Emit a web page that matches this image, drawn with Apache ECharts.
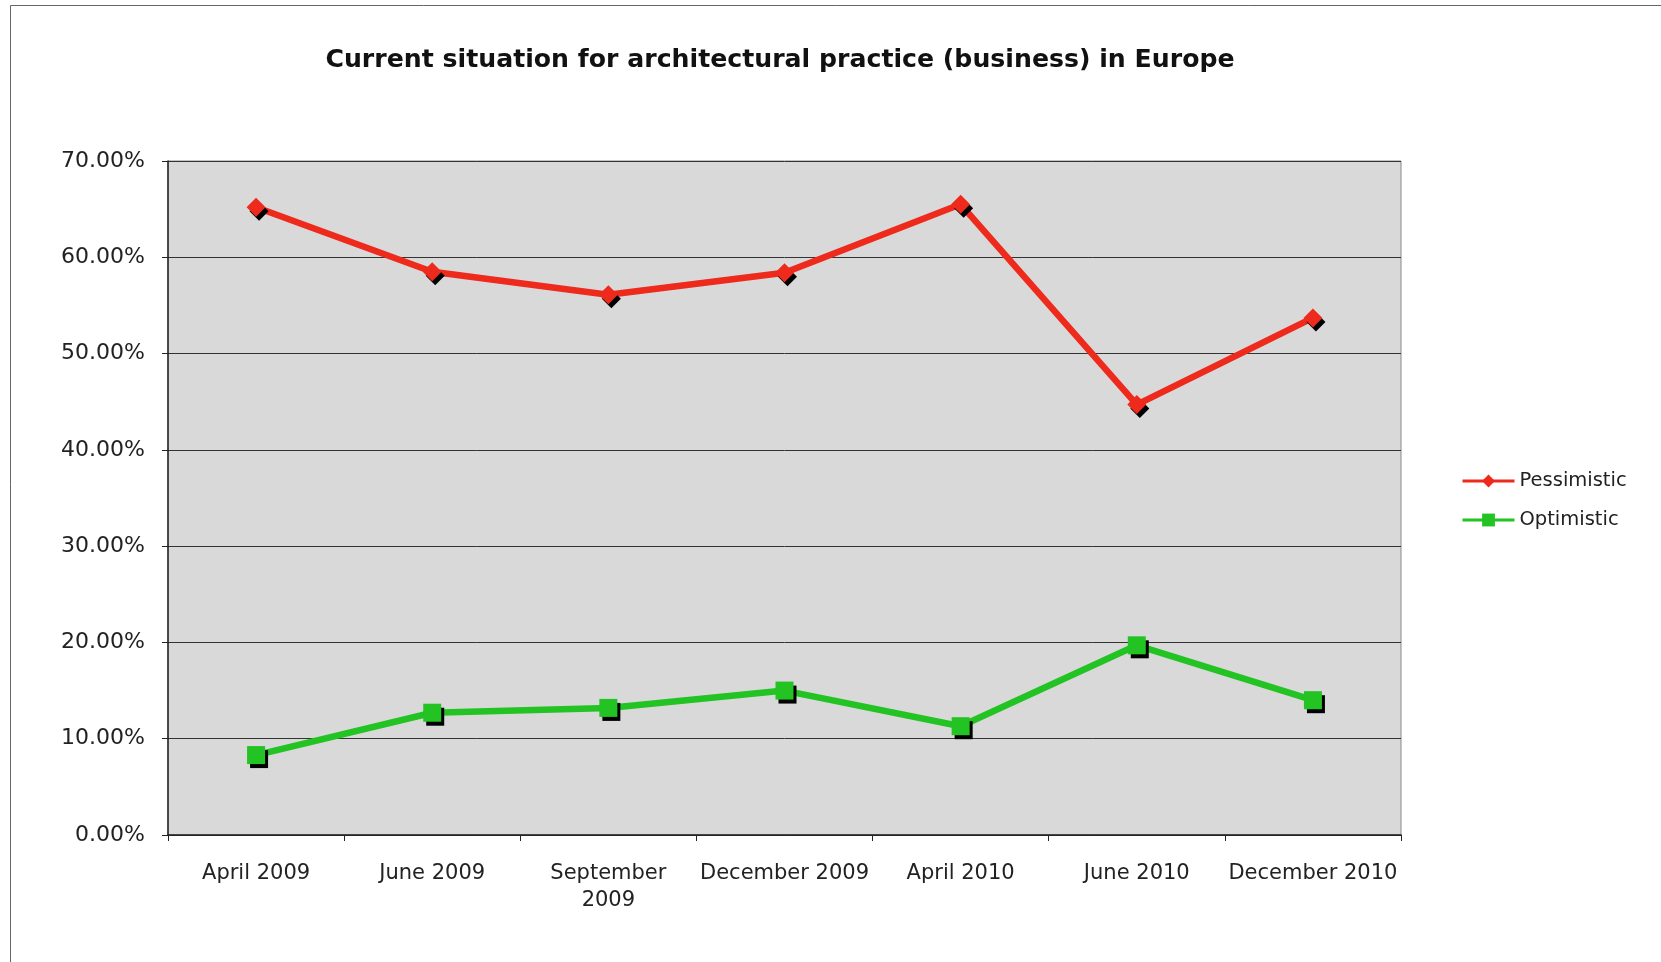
<!DOCTYPE html>
<html>
<head>
    <meta charset="utf-8">
    <title>Architectural practice in Europe</title>
    <script src="https://cdn.jsdelivr.net/npm/echarts@6/dist/echarts.min.js"></script>
    <style>
        html, body { margin: 0; padding: 0; background: #ffffff; }
        #main { width: 1661px; height: 962px; }
    </style>
</head>
<body>
    <div id="main"></div>
    <script>
        // survey dates (x axis)
        var categories = ['April 2009', 'June 2009', 'September 2009', 'December 2009', 'April 2010', 'June 2010', 'December 2010'];
        // share of answers, in %
        var pessimistic = [65.2, 58.5, 56.1, 58.4, 65.5, 44.7, 53.7];
        var optimistic = [8.3, 12.7, 13.2, 15.0, 11.3, 19.7, 14.0];
        var yTicks = [0, 10, 20, 30, 40, 50, 60, 70];

        var myChart = echarts.init(document.getElementById('main'));
        var font = 'DejaVu Sans';

        myChart.setOption({
            animation: false,
            backgroundColor: '#ffffff',
            //外框
            graphic: [{
                type: 'rect',
                shape: { x: 10.5, y: 5.5, width: 1700, height: 1000 },
                style: { fill: 'none', stroke: '#666666', lineWidth: 1 }
            }],
            title: {
                text: 'Current situation for architectural practice (business) in Europe',
                left: 775,
                textAlign: 'center',
                top: 43,
                textStyle: { fontFamily: font, fontSize: 25.2, fontWeight: 'bold', color: '#111111' }
            },
            legend: {
                orient: 'vertical',
                left: 1456,
                top: 466,
                itemGap: 19,
                itemWidth: 52,
                itemHeight: 16,
                lineStyle: { width: 3 },
                textStyle: { fontFamily: font, fontSize: 19.5, color: '#222222' },
                data: ['Pessimistic', 'Optimistic']
            },
            grid: {
                left: 168,
                right: 1661 - 1401,
                top: 161,
                bottom: 962 - 835,
                show: true,
                backgroundColor: '#d9d9d9',
                borderColor: '#8a8a8a',
                borderWidth: 1
            },
            xAxis: {
                type: 'category',
                data: categories,
                boundaryGap: true,
                axisLine: { lineStyle: { color: '#222222', width: 1.5 } },
                axisTick: { show: true, length: 6, alignWithLabel: false, lineStyle: { color: '#222222' } },
                axisLabel: {
                    interval: 0,
                    margin: 25,
                    fontFamily: font,
                    fontSize: 21,
                    color: '#222222',
                    lineHeight: 27,
                    formatter: function (v) { return v.replace('September ', 'September\n'); }
                }
            },
            yAxis: {
                type: 'value',
                min: yTicks[0],
                max: yTicks[yTicks.length - 1],
                interval: 10,
                axisLine: { show: true, lineStyle: { color: '#222222', width: 1.5 } },
                axisTick: { show: true, length: 6, lineStyle: { color: '#222222' } },
                splitLine: { lineStyle: { color: '#333333', width: 1 } },
                axisLabel: {
                    margin: 23,
                    fontFamily: font,
                    fontSize: 22,
                    color: '#222222',
                    formatter: function (v) { return v.toFixed(2) + '%'; }
                }
            },
            series: [{
                name: 'Pessimistic',
                type: 'line',
                data: pessimistic,
                color: '#ee2a1c',
                symbol: 'diamond',
                symbolSize: 19,
                lineStyle: { width: 6.5, color: '#ee2a1c' },
                itemStyle: { color: '#ee2a1c', shadowColor: '#000000', shadowOffsetX: 3, shadowOffsetY: 4, shadowBlur: 0 }
            }, {
                name: 'Optimistic',
                type: 'line',
                data: optimistic,
                color: '#22c322',
                symbol: 'rect',
                symbolSize: 18,
                lineStyle: { width: 6.5, color: '#22c322' },
                itemStyle: { color: '#22c322', shadowColor: '#000000', shadowOffsetX: 3, shadowOffsetY: 4, shadowBlur: 0 }
            }]
        });
    </script>
</body>
</html>
